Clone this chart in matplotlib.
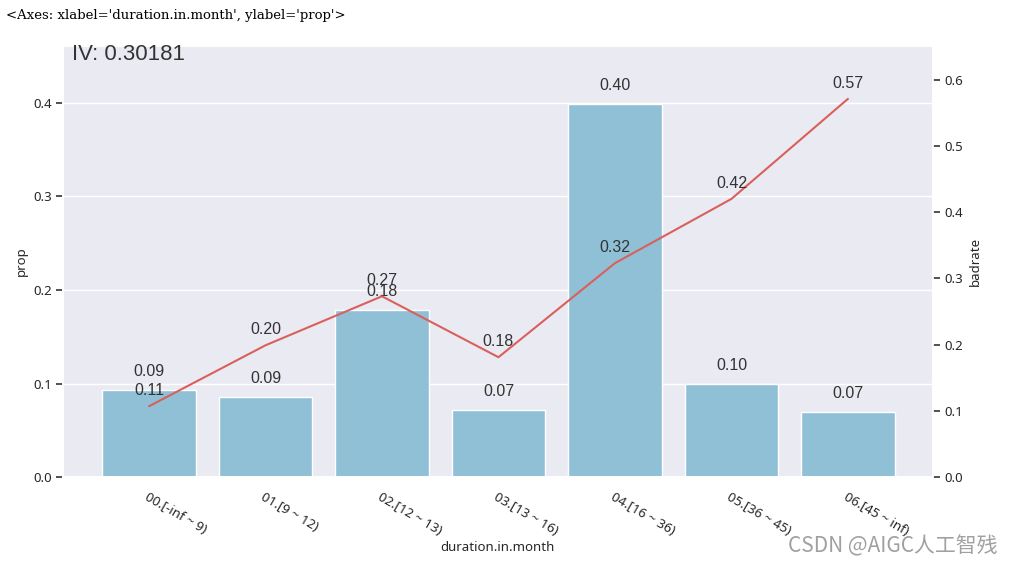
import numpy as np
import matplotlib
matplotlib.use("Agg")
import matplotlib.pyplot as plt
import seaborn as sns

# binned feature summary
bins = ["00.[-inf ~ 9)", "01.[9 ~ 12)", "02.[12 ~ 13)", "03.[13 ~ 16)",
        "04.[16 ~ 36)", "05.[36 ~ 45)", "06.[45 ~ inf)"]
prop = [0.093, 0.086, 0.179, 0.072, 0.399, 0.0995, 0.0695]
badrate = [0.107, 0.199, 0.273, 0.181, 0.323, 0.420, 0.571]
iv = 0.30181

sns.set_theme(style="darkgrid")
plt.rcParams['font.family'] = ['Noto Sans', 'DejaVu Sans']

fig = plt.figure(figsize=(10.13, 5.66), dpi=100)
ax = fig.add_axes([0.062, 0.157, 0.859, 0.762])
x = np.arange(len(bins))

ax.bar(x, prop, width=0.8, color="#8fc0d6", edgecolor="white", linewidth=1)
ax.set_xlim(-0.74, 6.73)
ax.set_ylim(0, 0.461)
ax.set_yticks([0.0, 0.1, 0.2, 0.3, 0.4])
ax.grid(axis="x", visible=False)
ax.set_xticks(x)
ax.set_xticklabels(bins, rotation=-30, ha="left", rotation_mode="anchor", fontsize=9.5)
ax.tick_params(axis="y", left=True, length=5, width=1.2, color="#333333", labelsize=9.5, pad=3)
ax.tick_params(axis="x", pad=4)
ax.set_xlabel("duration.in.month", fontsize=9.5, labelpad=2)
ax.set_ylabel("prop", fontsize=9.5)

for xi, p in zip(x, prop):
    ax.annotate(f"{p:.2f}", (xi, p), xytext=(0, 8), textcoords="offset points",
                ha="center", va="bottom", fontsize=11.5, family="Liberation Sans", color="#333333")

ax2 = ax.twinx()
ax2.plot(x, badrate, color="#d9605c", linewidth=1.5)
ax2.set_ylim(0, 0.651)
ax2.set_yticks([0.0, 0.1, 0.2, 0.3, 0.4, 0.5, 0.6])
ax2.grid(False)
ax2.tick_params(axis="y", right=True, length=5, width=1.2, color="#333333", labelsize=9.5, pad=3)
ax2.set_ylabel("badrate", fontsize=9.5)

for xi, b in zip(x, badrate):
    ax2.annotate(f"{b:.2f}", (xi, b), xytext=(0, 6), textcoords="offset points",
                 ha="center", va="bottom", fontsize=11.5, family="Liberation Sans", color="#333333")

ax2.text(0.01, 0.98, f"IV: {iv}", transform=ax.transAxes, ha="left", va="center",
         fontsize=16, family="Liberation Sans", color="#333333", clip_on=False, zorder=10)

fig.text(0.006, 0.972, "<Axes: xlabel='duration.in.month', ylabel='prop'>",
         fontsize=9.5, family="DejaVu Serif", color="black", va="center")
fig.text(0.985, 0.034, "CSDN @AIGC人工智残", ha="right", va="center", fontsize=15,
         family=["Noto Sans CJK SC", "DejaVu Sans"], color="#a0a0a0")

fig.savefig("out.png", dpi=100, facecolor="white")
